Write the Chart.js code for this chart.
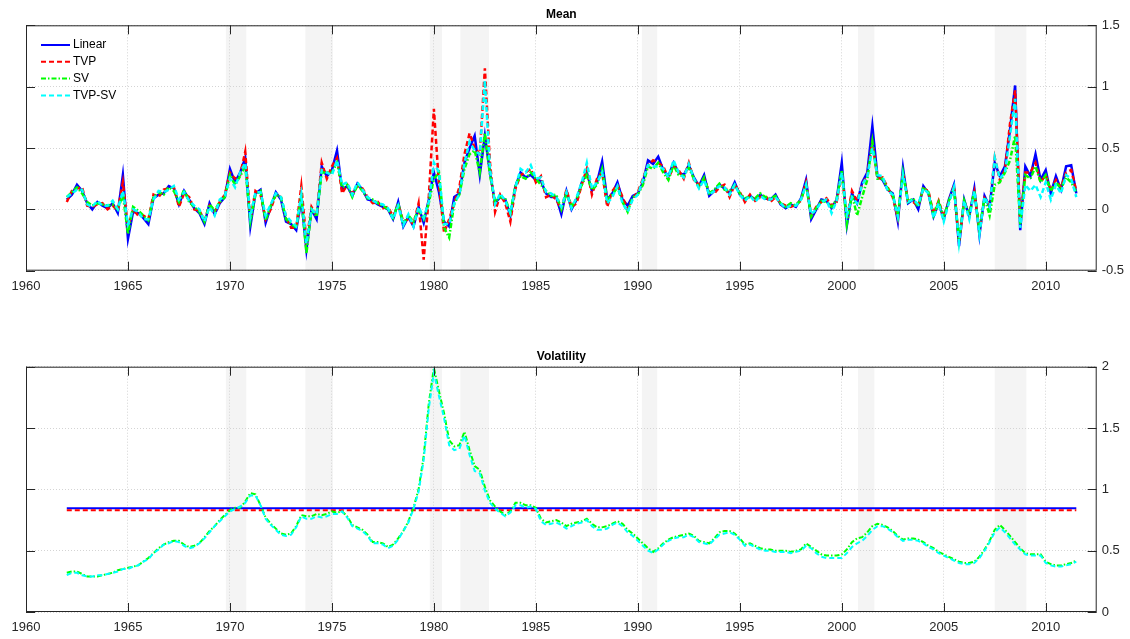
<!DOCTYPE html>
<html>
<head>
<meta charset="utf-8">
<script src="https://cdn.jsdelivr.net/npm/chart.js@4.4.0/dist/chart.umd.min.js"></script>
<style>
  html, body { margin: 0; padding: 0; background: #fff; }
  #wrap { position: relative; width: 1130px; height: 639px; }
  canvas { position: absolute; left: 0; }
</style>
</head>
<body>
<div id="wrap">
  <canvas id="meanChart" width="1130" height="300" style="top:0;width:1130px;height:300px"></canvas>
  <canvas id="volChart" width="1130" height="309" style="top:330px;width:1130px;height:309px"></canvas>
</div>
<script>
// quarterly observations, 1962Q1 .. 2011Q3
const START_YEAR = 1962;
const STEP = 0.25;

// NBER-style recession bands (years)
const recessions = [
  [1969.8, 1970.8], [1973.7, 1975.05], [1979.8, 1980.4], [1981.3, 1982.7],
  [1990.2, 1990.95], [2000.8, 2001.6], [2007.5, 2009.05]
];

const seriesNames = ['Linear', 'TVP', 'SV', 'TVP-SV'];

// ---- Mean ----
const meanLinear = [
  0.08, 0.12, 0.2, 0.15,
  0.05, 0.0, 0.06, 0.03,
  0.01, 0.05, -0.03, 0.28,
  -0.24, -0.02, -0.03, -0.07,
  -0.12, 0.09, 0.12, 0.13,
  0.19, 0.17, 0.04, 0.15,
  0.08, 0.01, -0.03, -0.12,
  0.05, -0.04, 0.05, 0.1,
  0.33, 0.22, 0.3, 0.42,
  -0.14, 0.13, 0.16, -0.11,
  0.02, 0.14, 0.08, -0.1,
  -0.12, -0.17, 0.08, -0.33,
  0.0, -0.08, 0.35, 0.27,
  0.32, 0.48, 0.16, 0.19,
  0.11, 0.21, 0.16, 0.08,
  0.07, 0.04, 0.02, 0.0,
  -0.08, 0.06, -0.14, -0.06,
  -0.14, 0.02, -0.11, 0.08,
  0.3, 0.14, -0.1, -0.14,
  0.1, 0.13, 0.38, 0.5,
  0.6, 0.28, 0.6, 0.3,
  0.05, 0.1, 0.08, -0.05,
  0.19, 0.3, 0.26, 0.28,
  0.24, 0.23, 0.13, 0.1,
  0.1, -0.04, 0.15, 0.0,
  0.08, 0.22, 0.3, 0.15,
  0.22, 0.39, 0.08, 0.13,
  0.22, 0.08, 0.03, 0.11,
  0.13, 0.22, 0.4, 0.37,
  0.43, 0.32, 0.27, 0.38,
  0.3, 0.28, 0.36, 0.26,
  0.19, 0.28, 0.11, 0.15,
  0.2, 0.17, 0.13, 0.22,
  0.12, 0.08, 0.11, 0.08,
  0.12, 0.09, 0.08, 0.12,
  0.04, 0.01, 0.04, 0.02,
  0.09, 0.24, -0.08, 0.0,
  0.08, 0.07, 0.01, 0.08,
  0.38, -0.13, 0.13, 0.05,
  0.22, 0.3, 0.68, 0.27,
  0.24, 0.16, 0.13, -0.1,
  0.34, 0.05, 0.08, 0.0,
  0.19, 0.13, -0.06, 0.05,
  -0.08, 0.08, 0.2, -0.3,
  0.08, -0.06, 0.17, -0.21,
  0.11, 0.02, 0.38, 0.27,
  0.35, 0.65, 1.01, -0.17,
  0.35, 0.27, 0.45, 0.24,
  0.32, 0.13, 0.27, 0.16,
  0.35, 0.36, 0.13
];

const meanTVP = [
  0.06, 0.15, 0.17, 0.18,
  0.03, 0.02, 0.04, 0.05,
  0.0, 0.03, -0.01, 0.22,
  -0.15, 0.0, -0.05, -0.05,
  -0.08, 0.12, 0.1, 0.16,
  0.17, 0.18, 0.02, 0.13,
  0.1, 0.0, -0.01, -0.09,
  0.03, -0.02, 0.06, 0.12,
  0.3, 0.25, 0.28, 0.47,
  -0.08, 0.15, 0.12, -0.08,
  0.0, 0.12, 0.1, -0.06,
  -0.15, -0.15, 0.19, -0.26,
  0.02, -0.05, 0.38, 0.25,
  0.35, 0.42, 0.13, 0.2,
  0.13, 0.19, 0.17, 0.1,
  0.05, 0.06, 0.01, 0.02,
  -0.06, 0.04, -0.1, -0.08,
  -0.12, 0.05, -0.41, 0.1,
  0.82, 0.2, -0.19, -0.08,
  0.05, 0.18, 0.45, 0.62,
  0.5, 0.45, 1.15, 0.38,
  -0.02, 0.12, 0.05, -0.1,
  0.17, 0.28, 0.3, 0.33,
  0.22, 0.27, 0.1, 0.12,
  0.08, 0.0, 0.16, 0.02,
  0.05, 0.2, 0.33, 0.12,
  0.25, 0.3, 0.02, 0.15,
  0.2, 0.1, 0.0, 0.09,
  0.14, 0.25, 0.36, 0.4,
  0.38, 0.35, 0.25, 0.35,
  0.32, 0.25, 0.38, 0.24,
  0.2, 0.25, 0.14, 0.13,
  0.18, 0.2, 0.1, 0.2,
  0.14, 0.06, 0.12, 0.07,
  0.1, 0.11, 0.06, 0.1,
  0.05, 0.03, 0.02, 0.04,
  0.07, 0.22, -0.05, 0.02,
  0.06, 0.09, 0.03, 0.06,
  0.3, -0.08, 0.15, 0.07,
  0.2, 0.28, 0.55, 0.25,
  0.26, 0.18, 0.1, -0.07,
  0.3, 0.07, 0.06, 0.03,
  0.17, 0.15, -0.04, 0.07,
  -0.06, 0.06, 0.19, -0.27,
  0.06, -0.04, 0.14, -0.18,
  0.09, 0.04, 0.42, 0.24,
  0.32, 0.7, 0.97, -0.1,
  0.3, 0.3, 0.38, 0.22,
  0.28, 0.15, 0.24, 0.18,
  0.3, 0.32, 0.15
];

const meanSV = [
  0.1, 0.14, 0.18, 0.13,
  0.06, 0.03, 0.05, 0.04,
  0.03, 0.04, 0.0, 0.12,
  -0.2, 0.02, -0.01, -0.05,
  -0.09, 0.1, 0.14, 0.12,
  0.18, 0.15, 0.06, 0.16,
  0.06, 0.02, -0.02, -0.1,
  0.04, -0.01, 0.06, 0.1,
  0.28, 0.2, 0.27, 0.35,
  -0.1, 0.12, 0.15, -0.09,
  0.03, 0.12, 0.1, -0.08,
  -0.12, -0.15, 0.1, -0.36,
  0.0, -0.06, 0.3, 0.3,
  0.3, 0.38, 0.18, 0.2,
  0.1, 0.2, 0.15, 0.09,
  0.08, 0.05, 0.03, 0.0,
  -0.07, 0.05, -0.12, -0.05,
  -0.1, 0.0, -0.08, 0.05,
  0.25, 0.3, -0.15, -0.23,
  0.05, 0.12, 0.33, 0.45,
  0.48, 0.3, 0.62, 0.28,
  0.06, 0.1, 0.09, -0.03,
  0.2, 0.27, 0.25, 0.3,
  0.25, 0.2, 0.15, 0.11,
  0.12, 0.0, 0.13, 0.02,
  0.09, 0.2, 0.28, 0.16,
  0.2, 0.33, 0.08, 0.12,
  0.18, 0.06, -0.02, 0.1,
  0.12, 0.2, 0.35, 0.33,
  0.38, 0.3, 0.24, 0.36,
  0.28, 0.27, 0.34, 0.25,
  0.18, 0.26, 0.13, 0.16,
  0.21, 0.16, 0.15, 0.2,
  0.13, 0.09, 0.1, 0.09,
  0.13, 0.1, 0.09, 0.11,
  0.05, 0.02, 0.05, 0.03,
  0.08, 0.2, -0.06, 0.01,
  0.07, 0.06, 0.02, 0.08,
  0.32, -0.12, 0.12, -0.05,
  0.1, 0.24, 0.55, 0.25,
  0.25, 0.17, 0.12, -0.05,
  0.3, 0.06, 0.09, 0.02,
  0.18, 0.14, -0.05, 0.06,
  -0.07, 0.07, 0.17, -0.25,
  0.07, -0.05, 0.15, -0.17,
  0.1, -0.05, 0.2, 0.22,
  0.3, 0.4, 0.6, -0.12,
  0.28, 0.25, 0.35, 0.22,
  0.28, 0.15, 0.22, 0.17,
  0.26, 0.22, 0.14
];

const meanTVPSV = [
  0.1, 0.13, 0.16, 0.16,
  0.04, 0.02, 0.07, 0.03,
  0.03, 0.07, 0.0, 0.15,
  -0.12, 0.0, -0.02, -0.08,
  -0.08, 0.08, 0.15, 0.14,
  0.16, 0.19, 0.08, 0.14,
  0.07, 0.03, 0.0, -0.1,
  0.02, -0.05, 0.08, 0.11,
  0.25, 0.18, 0.3, 0.38,
  -0.06, 0.14, 0.14, -0.05,
  0.04, 0.13, 0.1, -0.05,
  -0.1, -0.14, 0.12, -0.28,
  0.0, -0.04, 0.32, 0.3,
  0.28, 0.4, 0.2, 0.22,
  0.12, 0.22, 0.16, 0.1,
  0.07, 0.05, 0.04, 0.01,
  -0.08, 0.03, -0.13, -0.04,
  -0.14, 0.02, -0.07, 0.06,
  0.38, 0.3, -0.12, -0.12,
  0.05, 0.12, 0.38, 0.55,
  0.48, 0.45, 1.05, 0.33,
  0.04, 0.13, 0.07, -0.03,
  0.18, 0.33, 0.3, 0.36,
  0.25, 0.26, 0.14, 0.13,
  0.1, 0.02, 0.14, 0.01,
  0.1, 0.22, 0.38, 0.17,
  0.22, 0.3, 0.05, 0.1,
  0.19, 0.05, -0.02, 0.08,
  0.12, 0.24, 0.36, 0.35,
  0.35, 0.33, 0.26, 0.4,
  0.3, 0.26, 0.37, 0.25,
  0.17, 0.24, 0.12, 0.15,
  0.19, 0.18, 0.12, 0.2,
  0.12, 0.07, 0.11, 0.06,
  0.11, 0.08, 0.08, 0.1,
  0.05, 0.01, 0.03, 0.03,
  0.08, 0.2, -0.04, 0.0,
  0.06, 0.08, -0.03, 0.07,
  0.3, -0.05, 0.1, 0.05,
  0.2, 0.27, 0.5, 0.28,
  0.27, 0.15, 0.12, -0.06,
  0.28, 0.06, 0.08, 0.04,
  0.17, 0.13, -0.07, 0.05,
  -0.1, 0.05, 0.18, -0.27,
  0.07, -0.08, 0.15, -0.2,
  0.1, 0.02, 0.42, 0.25,
  0.3, 0.6, 0.9, -0.15,
  0.2, 0.15, 0.2, 0.1,
  0.22, 0.08, 0.2, 0.13,
  0.28, 0.25, 0.1
];

// ---- Volatility ----
const volLinear = 0.845;   // constant-volatility models
const volTVP = 0.83;

const volSV = [
  0.32, 0.33, 0.33, 0.31,
  0.29, 0.29, 0.29, 0.3,
  0.31, 0.32, 0.34, 0.35,
  0.36, 0.37, 0.38, 0.41,
  0.44, 0.48, 0.52, 0.55,
  0.57, 0.58, 0.58, 0.55,
  0.53, 0.54, 0.56, 0.61,
  0.66, 0.7, 0.75, 0.79,
  0.83, 0.85, 0.85, 0.9,
  0.97, 0.96, 0.87, 0.77,
  0.72, 0.68, 0.64, 0.63,
  0.64, 0.7, 0.79, 0.78,
  0.78, 0.8, 0.79, 0.8,
  0.82, 0.81, 0.82, 0.78,
  0.71, 0.69, 0.67, 0.63,
  0.57, 0.57, 0.56, 0.53,
  0.55, 0.6, 0.66, 0.74,
  0.85, 1.0, 1.27, 1.7,
  1.99, 1.8, 1.62, 1.4,
  1.35, 1.36, 1.47, 1.32,
  1.19, 1.16, 1.02, 0.91,
  0.86, 0.82, 0.79, 0.82,
  0.89, 0.89, 0.87, 0.87,
  0.85, 0.76, 0.73, 0.74,
  0.75, 0.73, 0.7, 0.72,
  0.73, 0.74, 0.76, 0.72,
  0.69, 0.69, 0.7, 0.72,
  0.74, 0.72, 0.67, 0.64,
  0.6, 0.56, 0.52, 0.49,
  0.52, 0.56, 0.59, 0.61,
  0.62, 0.63, 0.64, 0.62,
  0.58, 0.57, 0.56, 0.6,
  0.65, 0.66, 0.66, 0.64,
  0.6, 0.55, 0.56, 0.54,
  0.52, 0.51, 0.51, 0.5,
  0.5, 0.5, 0.49, 0.5,
  0.51, 0.56, 0.53, 0.5,
  0.47, 0.46, 0.46, 0.46,
  0.47, 0.51, 0.57, 0.6,
  0.61, 0.65, 0.7, 0.72,
  0.71, 0.69, 0.66, 0.62,
  0.59, 0.6, 0.6, 0.59,
  0.57, 0.54, 0.52, 0.49,
  0.47, 0.45, 0.43, 0.41,
  0.4, 0.4, 0.41, 0.45,
  0.51, 0.58, 0.67, 0.71,
  0.67, 0.62, 0.57, 0.52,
  0.48, 0.47, 0.47, 0.47,
  0.41, 0.39, 0.38, 0.38,
  0.39, 0.4, 0.42
];

const volTVPSV = [
  0.3, 0.32, 0.32, 0.3,
  0.29, 0.29, 0.3, 0.3,
  0.31, 0.32, 0.33, 0.35,
  0.35, 0.37, 0.38, 0.41,
  0.43, 0.48, 0.51, 0.55,
  0.56, 0.58, 0.57, 0.54,
  0.52, 0.53, 0.56, 0.6,
  0.65, 0.7, 0.74, 0.78,
  0.82, 0.84, 0.86, 0.89,
  0.95, 0.95, 0.87, 0.76,
  0.71, 0.67, 0.63, 0.62,
  0.63, 0.69, 0.78, 0.76,
  0.76, 0.78, 0.77, 0.78,
  0.8, 0.8, 0.82, 0.77,
  0.7, 0.68, 0.66, 0.62,
  0.56, 0.56, 0.55, 0.52,
  0.54, 0.59, 0.66, 0.73,
  0.84, 0.98, 1.24, 1.66,
  1.95, 1.76, 1.58, 1.36,
  1.32, 1.33, 1.44, 1.28,
  1.15, 1.13, 0.99, 0.89,
  0.84, 0.81, 0.78, 0.81,
  0.87, 0.87, 0.85, 0.86,
  0.84, 0.74, 0.71, 0.72,
  0.73, 0.71, 0.68, 0.7,
  0.72, 0.73, 0.75, 0.7,
  0.67, 0.67, 0.68, 0.71,
  0.73, 0.7, 0.65, 0.62,
  0.58, 0.54, 0.5, 0.48,
  0.51, 0.55, 0.58, 0.6,
  0.61, 0.61, 0.63, 0.61,
  0.57, 0.56, 0.55, 0.59,
  0.63, 0.64, 0.65, 0.63,
  0.59, 0.54, 0.55, 0.53,
  0.51, 0.5, 0.5, 0.49,
  0.49, 0.49, 0.48, 0.49,
  0.5, 0.54, 0.52, 0.48,
  0.45, 0.44, 0.44, 0.44,
  0.44, 0.48, 0.53, 0.56,
  0.58, 0.62, 0.67, 0.7,
  0.7, 0.68, 0.65, 0.61,
  0.58, 0.59, 0.59, 0.58,
  0.56, 0.53, 0.51, 0.48,
  0.46, 0.44, 0.42, 0.4,
  0.39, 0.39, 0.4, 0.44,
  0.5, 0.57, 0.65, 0.69,
  0.65, 0.6, 0.55, 0.51,
  0.47, 0.46, 0.46, 0.46,
  0.4, 0.38, 0.37, 0.37,
  0.38, 0.39, 0.41
];

const FONT = '"Liberation Sans", Arial, Helvetica, sans-serif';
const TICK_LEN = 9;

const toPoints = vals => vals.map((v, i) => ({ x: START_YEAR + i * STEP, y: v }));
const lastYear = START_YEAR + (volSV.length - 1) * STEP;
const flatLine = v => [{ x: START_YEAR, y: v }, { x: lastYear, y: v }];

const styles = [
  { borderColor: '#0000ff', borderDash: [], order: 3 },
  { borderColor: '#ff0000', borderDash: [5, 3], order: 2 },
  { borderColor: '#00ff00', borderDash: [5, 2, 1.5, 2], order: 1 },
  { borderColor: '#00ffff', borderDash: [5, 3], order: 0 }
];

function makeDatasets(seriesData, width) {
  return seriesData.map((pts, i) => ({
    label: seriesNames[i],
    data: pts,
    borderWidth: width,
    fill: false,
    ...styles[i]
  }));
}

const recessionShading = {
  id: 'recessionShading',
  beforeDraw(chart) {
    const { ctx, chartArea: a, scales: { x } } = chart;
    ctx.save();
    ctx.fillStyle = '#f4f4f4';
    recessions.forEach(([s, e]) => {
      const x0 = x.getPixelForValue(s);
      const x1 = x.getPixelForValue(e);
      ctx.fillRect(x0, a.top, x1 - x0, a.bottom - a.top);
    });
    ctx.restore();
  }
};

// box round the axes with inward ticks, like the original figure
const axesBox = {
  id: 'axesBox',
  afterDraw(chart) {
    const { ctx, chartArea: a, scales: { x, y } } = chart;
    ctx.save();
    ctx.strokeStyle = '#262626';
    ctx.lineWidth = 1;
    ctx.setLineDash([]);
    ctx.strokeRect(a.left + 0.5, a.top + 0.5, a.right - a.left - 1, a.bottom - a.top - 1);
    ctx.beginPath();
    x.ticks.forEach(t => {
      const px = Math.round(x.getPixelForValue(t.value)) + 0.5;
      ctx.moveTo(px, a.bottom); ctx.lineTo(px, a.bottom - TICK_LEN);
      ctx.moveTo(px, a.top); ctx.lineTo(px, a.top + TICK_LEN);
    });
    y.ticks.forEach(t => {
      const py = Math.round(y.getPixelForValue(t.value)) + 0.5;
      ctx.moveTo(a.left, py); ctx.lineTo(a.left + TICK_LEN, py);
      ctx.moveTo(a.right, py); ctx.lineTo(a.right - TICK_LEN, py);
    });
    ctx.stroke();
    ctx.restore();
  }
};

const insideLegend = {
  id: 'insideLegend',
  afterDraw(chart) {
    const { ctx, chartArea: a } = chart;
    ctx.save();
    ctx.font = '12px ' + FONT;
    ctx.textBaseline = 'middle';
    chart.data.datasets.forEach((ds, i) => {
      const yy = a.top + 19.7 + i * 16.8;
      ctx.strokeStyle = ds.borderColor;
      ctx.lineWidth = 2;
      ctx.setLineDash(ds.borderDash);
      ctx.beginPath();
      ctx.moveTo(a.left + 15, yy);
      ctx.lineTo(a.left + 44, yy);
      ctx.stroke();
      ctx.setLineDash([]);
      ctx.fillStyle = '#000';
      ctx.fillText(ds.label, a.left + 47, yy);
    });
    ctx.restore();
  }
};

function panelOptions(title, yMin, yMax, titlePad, xAxisHeight) {
  return {
    responsive: false,
    animation: false,
    layout: { padding: { left: 26, right: 0, top: 0, bottom: 0 } },
    elements: { point: { radius: 0 }, line: { tension: 0 } },
    plugins: {
      legend: { display: false },
      tooltip: { enabled: false },
      title: {
        display: true,
        text: title,
        fullSize: false,
        color: '#000',
        font: { family: FONT, size: 12, weight: 'bold' },
        padding: titlePad
      }
    },
    scales: {
      x: {
        type: 'linear',
        min: 1960,
        max: 2012.5,
        afterFit: s => { s.height = xAxisHeight; },
        grid: { color: '#d4d4d4', drawTicks: false },
        border: { display: false, dash: [1, 2] },
        ticks: {
          stepSize: 5,
          includeBounds: false,
          padding: 8,
          maxRotation: 0,
          color: '#262626',
          font: { family: FONT, size: 13 },
          callback: v => String(v)
        }
      },
      y: {
        position: 'right',
        min: yMin,
        max: yMax,
        afterFit: s => { s.width = 33.3; },
        grid: { color: '#d4d4d4', drawTicks: false },
        border: { display: false, dash: [1, 2] },
        ticks: {
          stepSize: 0.5,
          padding: 5,
          color: '#262626',
          font: { family: FONT, size: 13 },
          callback: v => String(v)
        }
      }
    }
  };
}

new Chart(document.getElementById('meanChart').getContext('2d'), {
  type: 'line',
  data: {
    datasets: makeDatasets([
      toPoints(meanLinear), toPoints(meanTVP), toPoints(meanSV), toPoints(meanTVPSV)
    ], 2.5)
  },
  options: panelOptions('Mean', -0.5, 1.5, { top: 7.8, bottom: 3.1 }, 29.3),
  plugins: [recessionShading, axesBox, insideLegend]
});

new Chart(document.getElementById('volChart').getContext('2d'), {
  type: 'line',
  data: {
    datasets: makeDatasets([
      flatLine(volLinear), flatLine(volTVP), toPoints(volSV), toPoints(volTVPSV)
    ], 2)
  },
  options: panelOptions('Volatility', 0, 2, { top: 19, bottom: 3.3 }, 27),
  plugins: [recessionShading, axesBox]
});
</script>
</body>
</html>
